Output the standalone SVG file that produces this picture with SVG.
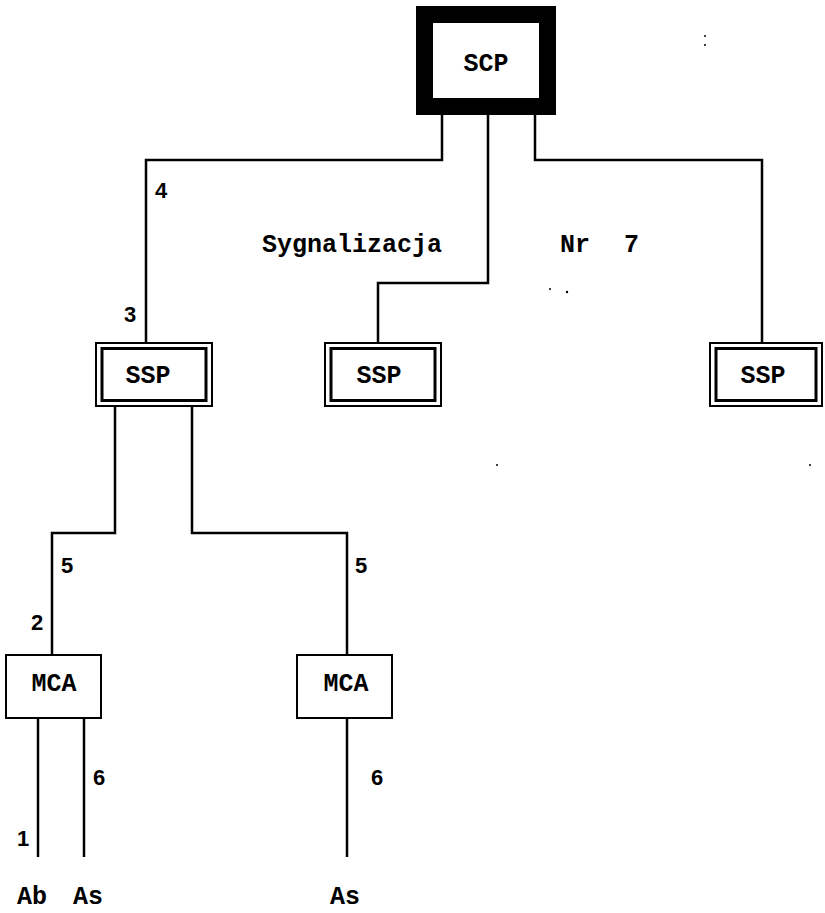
<svg xmlns="http://www.w3.org/2000/svg" width="825" height="913" viewBox="0 0 825 913">
<style>
.c{fill:none;stroke:#000;stroke-width:2.5}
.o{fill:#fff;stroke:#000;stroke-width:2}
.i{fill:none;stroke:#000;stroke-width:3}
.t{font-family:"Liberation Mono",monospace;font-weight:bold;font-size:25px;fill:#000}
.d{font-family:"Liberation Sans",sans-serif;font-weight:bold;font-size:22px;fill:#000}
</style>
<rect width="825" height="913" fill="#fff"/>
<g id="connectors">
<path class="c" d="M442,112 V160 H146 V343"/>
<path class="c" d="M488,112 V283 H378 V343"/>
<path class="c" d="M535,112 V160 H762 V343"/>
<path class="c" d="M115,405 V533 H52 V655"/>
<path class="c" d="M192,405 V533 H347 V655"/>
<path class="c" d="M38,718 V857"/>
<path class="c" d="M84,718 V857"/>
<path class="c" d="M347,718 V857"/>
</g>
<g id="scp">
<rect x="424.5" y="14.5" width="123" height="92" fill="#fff" stroke="#000" stroke-width="17"/>
<text class="t" x="486" y="71" text-anchor="middle" font-size="26">SCP</text>
</g>
<g id="ssp1">
<rect class="o" x="96" y="343" width="116" height="63"/>
<rect class="i" x="102" y="348.5" width="104" height="52"/>
<text class="t" x="148" y="383" text-anchor="middle" font-size="26">SSP</text>
</g>
<g id="ssp2">
<rect class="o" x="325" y="343" width="116" height="63"/>
<rect class="i" x="331" y="348.5" width="104" height="52"/>
<text class="t" x="379" y="383" text-anchor="middle" font-size="26">SSP</text>
</g>
<g id="ssp3">
<rect class="o" x="710" y="343" width="112" height="63"/>
<rect class="i" x="716" y="348.5" width="100" height="52"/>
<text class="t" x="763" y="383" text-anchor="middle" font-size="26">SSP</text>
</g>
<g id="mca1">
<rect class="o" x="6" y="655" width="95" height="63"/>
<text class="t" x="54" y="691" text-anchor="middle" font-size="23">MCA</text>
</g>
<g id="mca2">
<rect class="o" x="297" y="655" width="95" height="63"/>
<text class="t" x="346" y="691" text-anchor="middle" font-size="23">MCA</text>
</g>
<g id="labels">
<text class="t" x="262" y="252">Sygnalizacja</text>
<text class="t" x="560" y="252">Nr</text>
<text class="t" x="624" y="252">7</text>
<text class="d" x="155" y="198">4</text>
<text class="d" x="124" y="322">3</text>
<text class="d" x="61" y="573">5</text>
<text class="d" x="355" y="573">5</text>
<text class="d" x="31" y="630">2</text>
<text class="d" x="93" y="785">6</text>
<text class="d" x="371" y="785">6</text>
<text class="d" x="17" y="846">1</text>
<text class="t" x="32" y="904" text-anchor="middle" font-size="23">Ab</text>
<text class="t" x="88" y="904" text-anchor="middle" font-size="23">As</text>
<text class="t" x="345" y="904" text-anchor="middle" font-size="23">As</text>
</g>
<g id="specks" fill="#000">
<circle cx="550" cy="289" r="1"/>
<circle cx="567" cy="292" r="1.2"/>
<circle cx="705" cy="36" r="1"/>
<circle cx="705" cy="45" r="1"/>
<circle cx="497" cy="465" r="1"/>
<circle cx="810" cy="465" r="1"/>
</g>
</svg>
